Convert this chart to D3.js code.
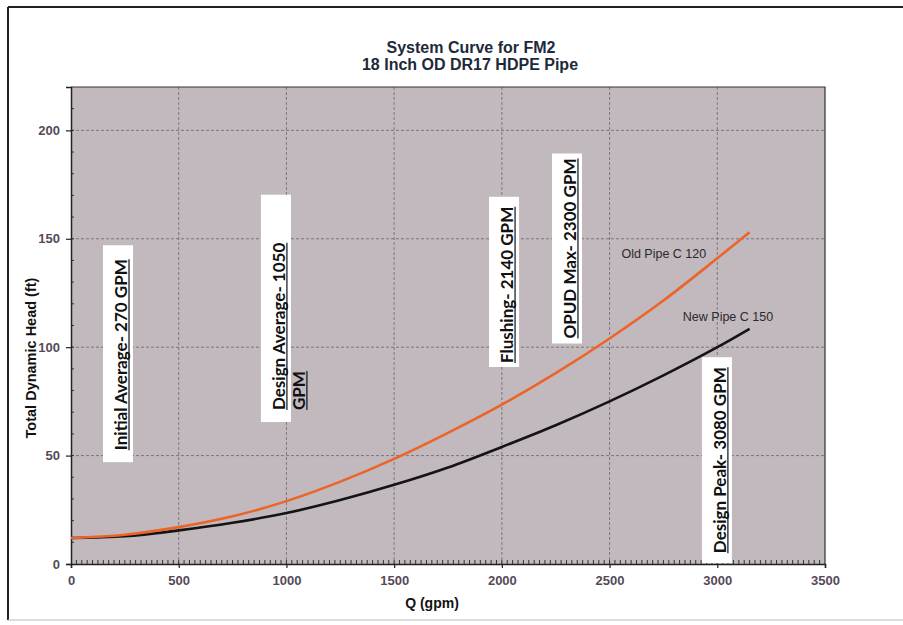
<!DOCTYPE html>
<html>
<head>
<meta charset="utf-8">
<script src="https://cdn.jsdelivr.net/npm/d3@7/dist/d3.min.js"></script>
<style>
  html, body { margin: 0; padding: 0; background: #ffffff; }
  svg { display: block; }
</style>
</head>
<body>
<svg id="chart" width="903" height="625"></svg>
<script>
// ---------------- DATA ----------------
const titleLines = ["System Curve for FM2", "18 Inch OD DR17 HDPE Pipe"];
const xAxisTitle = "Q (gpm)";
const yAxisTitle = "Total Dynamic Head (ft)";

const xTicks = [0, 500, 1000, 1500, 2000, 2500, 3000, 3500];
const yTicks = [0, 50, 100, 150, 200];

const flowQ   = [0, 250, 500, 750, 1000, 1250, 1500, 1750, 2000, 2250, 2500, 2750, 3000, 3150];
const oldHead = [12, 13.5, 17, 22, 29, 38, 48.5, 60.5, 73.5, 88, 104, 121.5, 141, 153];
const newHead = [12, 12.8, 15.5, 19, 23.5, 29.5, 36.5, 44.5, 54, 64, 75, 87, 100, 108.5];

const seriesNames = ["Old Pipe C 120", "New Pipe C 150"];
const seriesLabelQ = [2555, 2840];
const seriesLabelH = [141, 112];

// annotations: text lines, anchor flow (Q), anchor head at text start
const annotLines = [
  ["Initial Average- 270 GPM"],
  ["Design Average- 1050", "GPM"],
  ["Flushing- 2140 GPM"],
  ["OPUD Max- 2300 GPM"],
  ["Design Peak- 3080 GPM"]
];
const annotQ = [260, 993, 2052, 2344, 3040];
const annotH = [52.5, 71, 92.7, 104, 5];

// ---------------- LAYOUT ----------------
const plot = { left: 71, right: 825, top: 87, bottom: 564 };
// box padding for each annotation: [before text start (bottom), after text end (top)]
const annotPad = [[12, 14], [12, 48], [4, 10], [5, 5], [10, 10]];

const svg = d3.select("#chart");

const x = d3.scaleLinear().domain([0, 3500]).range([plot.left, plot.right]);
const y = d3.scaleLinear().domain([0, 220]).range([plot.bottom, plot.top]);

// outer frame
svg.append("line").attr("x1", 8).attr("x2", 903).attr("y1", 7).attr("y2", 7)
  .attr("stroke", "#222").attr("stroke-width", 2);
svg.append("line").attr("x1", 8).attr("x2", 8).attr("y1", 7).attr("y2", 620)
  .attr("stroke", "#222").attr("stroke-width", 2);
svg.append("line").attr("x1", 8).attr("x2", 903).attr("y1", 620).attr("y2", 620)
  .attr("stroke", "#bbb").attr("stroke-width", 1);

// titles
const titleFont = "'Liberation Sans', Arial, sans-serif";
svg.append("text").attr("x", 471).attr("y", 53).attr("text-anchor", "middle")
  .attr("font-family", titleFont).attr("font-weight", "bold").attr("font-size", 16)
  .attr("fill", "#1d2a3a").text(titleLines[0]);
svg.append("text").attr("x", 470).attr("y", 70).attr("text-anchor", "middle")
  .attr("font-family", titleFont).attr("font-weight", "bold").attr("font-size", 16)
  .attr("fill", "#1d2a3a").text(titleLines[1]);

// plot background
svg.append("rect").attr("x", plot.left).attr("y", plot.top)
  .attr("width", plot.right - plot.left).attr("height", plot.bottom - plot.top)
  .attr("fill", "#c1b9be");

// grid
const grid = svg.append("g");
grid.selectAll("line.h").data(yTicks.filter(d => d > 0)).join("line")
  .attr("x1", plot.left).attr("x2", plot.right)
  .attr("y1", d => y(d)).attr("y2", d => y(d))
  .attr("stroke", "#7d757b").attr("stroke-width", 1).attr("stroke-dasharray", "3,2");
grid.selectAll("line.v").data(xTicks.filter(d => d > 0 && d < 3500)).join("line")
  .attr("x1", d => x(d)).attr("x2", d => x(d))
  .attr("y1", plot.top).attr("y2", plot.bottom)
  .attr("stroke", "#7d757b").attr("stroke-width", 1).attr("stroke-dasharray", "3,2");

// plot border (top/right)
svg.append("path")
  .attr("d", `M${plot.left},${plot.top}H${plot.right}V${plot.bottom}`)
  .attr("fill", "none").attr("stroke", "#333").attr("stroke-width", 1.2);

// minor ticks
const minorX = d3.range(25, 3500, 25);
svg.append("g").selectAll("line").data(minorX).join("line")
  .attr("x1", d => x(d)).attr("x2", d => x(d))
  .attr("y1", plot.bottom).attr("y2", plot.bottom - 4)
  .attr("stroke", "#333").attr("stroke-width", 1);
const minorY = d3.range(10, 220, 10);
svg.append("g").selectAll("line").data(minorY).join("line")
  .attr("x1", plot.left).attr("x2", plot.left + 3)
  .attr("y1", d => y(d)).attr("y2", d => y(d))
  .attr("stroke", "#333").attr("stroke-width", 1);

// axes
const tickFont = "'Liberation Sans', Arial, sans-serif";
const xAxis = svg.append("g").attr("transform", `translate(0,${plot.bottom})`)
  .call(d3.axisBottom(x).tickValues(xTicks).tickSize(4).tickPadding(8).tickFormat(d3.format("d")));
const yAxis = svg.append("g").attr("transform", `translate(${plot.left},0)`)
  .call(d3.axisLeft(y).tickValues(yTicks).tickSize(5).tickPadding(6).tickFormat(d3.format("d")));
[xAxis, yAxis].forEach(a => {
  a.select(".domain").attr("stroke", "#222").attr("stroke-width", 1.5);
  a.selectAll(".tick line").attr("stroke", "#222").attr("stroke-width", 1.2);
  a.selectAll(".tick text").attr("font-family", tickFont).attr("font-weight", "bold")
    .attr("font-size", 13).attr("fill", "#554a58");
});

// axis titles
svg.append("text").attr("x", 432).attr("y", 608).attr("text-anchor", "middle")
  .attr("font-family", tickFont).attr("font-weight", "bold").attr("font-size", 14)
  .attr("fill", "#111").text(xAxisTitle);
svg.append("text").attr("transform", "translate(36,358) rotate(-90)").attr("text-anchor", "middle")
  .attr("font-family", tickFont).attr("font-weight", "bold").attr("font-size", 14.5)
  .attr("fill", "#111").text(yAxisTitle);

// annotations
const annotFont = "Lato, 'Open Sans', sans-serif";
const annG = svg.append("g");
annotLines.forEach((lines, i) => {
  const bx = x(annotQ[i]);
  const by = y(annotH[i]);
  const g = annG.append("g");
  const rect = g.append("rect").attr("fill", "#ffffff");
  const texts = lines.map((t, j) => g.append("text")
    .attr("transform", `translate(${bx + j * 20},${by}) rotate(-90)`)
    .attr("font-family", annotFont).attr("font-weight", "bold").attr("font-size", 17)
    .attr("fill", "#111").text(t));
  // box sized to first line
  const len = texts[0].node().getComputedTextLength();
  rect.attr("x", bx - 24).attr("width", 30)
    .attr("y", by - len - annotPad[i][1]).attr("height", len + annotPad[i][0] + annotPad[i][1]);
  // underlines
  texts.forEach((tx, j) => {
    const l = tx.node().getComputedTextLength();
    g.append("line").attr("x1", bx + j * 20 + 2).attr("x2", bx + j * 20 + 2)
      .attr("y1", by).attr("y2", by - l).attr("stroke", "#111").attr("stroke-width", 1.2);
  });
});

// curves
const line = d3.line().x(d => x(d[0])).y(d => y(d[1])).curve(d3.curveMonotoneX);
svg.append("path").datum(flowQ.map((q, i) => [q, newHead[i]]))
  .attr("d", line).attr("fill", "none").attr("stroke", "#141414").attr("stroke-width", 2.6);
svg.append("path").datum(flowQ.map((q, i) => [q, oldHead[i]]))
  .attr("d", line).attr("fill", "none").attr("stroke", "#ec6428").attr("stroke-width", 2.6);

// series labels
seriesNames.forEach((n, i) => {
  svg.append("text").attr("x", x(seriesLabelQ[i])).attr("y", y(seriesLabelH[i]))
    .attr("font-family", "'Liberation Sans', Arial, sans-serif").attr("font-size", 12.5)
    .attr("fill", "#2a2a2a").text(n);
});
</script>
</body>
</html>
